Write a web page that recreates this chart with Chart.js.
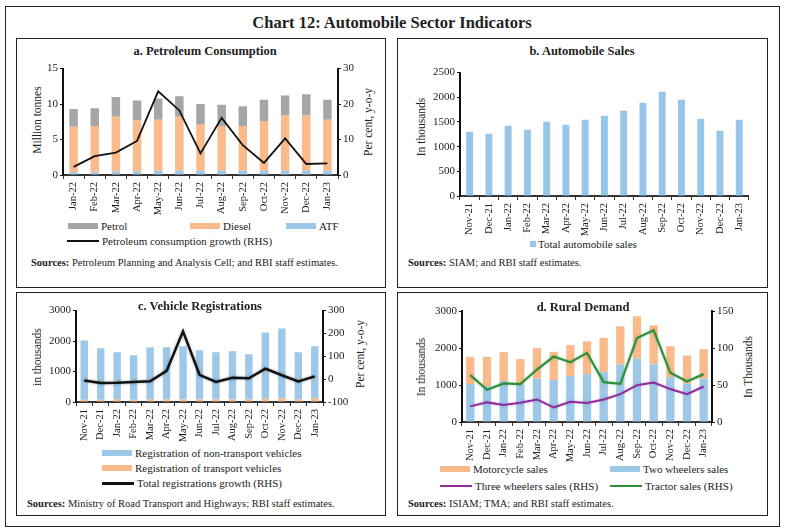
<!DOCTYPE html>
<html>
<head>
<meta charset="utf-8">
<script src="https://cdn.jsdelivr.net/npm/chart.js@4.4.1/dist/chart.umd.min.js"></script>
<style>
    body { margin: 0; width: 785px; height: 532px; position: relative; background: #fff; font-family: 'Liberation Serif', serif; color: #222; overflow: hidden; }
    .box { position: absolute; border: 1.5px solid #222; box-sizing: border-box; }
    .abs { position: absolute; white-space: nowrap; }
    .mid { transform: translate(-50%, -50%); }
    .vt { transform: translate(-50%, -50%) rotate(-90deg); font-size: 11.5px; }
    .ptitle { font-weight: bold; font-size: 12.5px; }
    .src { font-size: 10.5px; }
    .leg { font-size: 11px; display: flex; align-items: center; }
    .sw { display: inline-block; width: 30px; height: 6px; margin-right: 3px; }
    .ln { display: inline-block; width: 32px; height: 2px; margin-right: 3px; }
    .cw { position: absolute; }
</style>
</head>
<body>

<div class="box" style="left:5px; top:6px; width:775px; height:521px;"></div>
<div class="abs mid" style="left:392px; top:23px; font-size:16.5px; font-weight:bold;">Chart 12: Automobile Sector Indicators</div>

<!-- panel a -->
<div class="box" style="left:16px; top:38px; width:370px; height:250px;"></div>
<div class="abs mid ptitle" style="left:205px; top:51px;">a. Petroleum Consumption</div>
<div class="abs vt" style="left:37px; top:120px;">Million tonnes</div>
<div class="abs vt" style="left:368px; top:122px;">Per cent, y-o-y</div>
<div class="cw" style="left:20px; top:60px; width:345px; height:157px;"><canvas id="chartA"></canvas></div>
<div class="abs leg" style="left:68px; top:220px;"><span class="sw" style="background:#A6A6A6"></span>Petrol</div>
<div class="abs leg" style="left:190px; top:220px;"><span class="sw" style="background:#F9BA8C"></span>Diesel</div>
<div class="abs leg" style="left:286px; top:220px;"><span class="sw" style="background:#9DC8E8"></span>ATF</div>
<div class="abs leg" style="left:67px; top:235px;"><span class="ln" style="background:#111"></span>Petroleum consumption growth (RHS)</div>
<div class="abs src" style="left:31px; top:257px;"><b>Sources:</b> Petroleum Planning and Analysis Cell; and RBI staff estimates.</div>

<!-- panel b -->
<div class="box" style="left:397px; top:38px; width:371px; height:250px;"></div>
<div class="abs mid ptitle" style="left:582px; top:51px;">b. Automobile Sales</div>
<div class="abs vt" style="left:421px; top:127px;">In thousands</div>
<div class="cw" style="left:400px; top:64px; width:355px; height:172px;"><canvas id="chartB"></canvas></div>
<div class="abs leg" style="left:530px; top:238px;"><span class="sw" style="background:#97C6E8; width:6px; height:6px; margin-right:2px;"></span>Total automobile sales</div>
<div class="abs src" style="left:408px; top:257px;"><b>Sources:</b> SIAM; and RBI staff estimates.</div>

<!-- panel c -->
<div class="box" style="left:16px; top:292px; width:370px; height:224px;"></div>
<div class="cw" style="left:20px; top:302px; width:330px; height:140px;"><canvas id="chartC"></canvas></div>
<div class="abs mid ptitle" style="left:200px; top:306px;">c. Vehicle Registrations</div>
<div class="abs vt" style="left:37px; top:357px;">in thousands</div>
<div class="abs vt" style="left:360px; top:354px;">Per cent, y-o-y</div>
<div class="abs leg" style="left:102px; top:447px;"><span class="sw" style="background:#9DC8E8"></span>Registration of non-transport vehicles</div>
<div class="abs leg" style="left:102px; top:462px;"><span class="sw" style="background:#F9BA8C"></span>Registration of transport vehicles</div>
<div class="abs leg" style="left:102px; top:477px;"><span class="ln" style="background:#111; height:3px;"></span>Total registrations growth (RHS)</div>
<div class="abs src" style="left:27px; top:498px;"><b>Sources:</b> Ministry of Road Transport and Highways; RBI staff estimates.</div>

<!-- panel d -->
<div class="box" style="left:397px; top:292px; width:371px; height:224px;"></div>
<div class="cw" style="left:400px; top:302px; width:340px; height:160px;"><canvas id="chartD"></canvas></div>
<div class="abs mid ptitle" style="left:583px; top:307px;">d. Rural Demand</div>
<div class="abs vt" style="left:421px; top:367px;">In thousands</div>
<div class="abs vt" style="left:748px; top:367px;">In Thousands</div>
<div class="abs leg" style="left:440px; top:463px;"><span class="sw" style="background:#F9BA8C"></span>Motorcycle sales</div>
<div class="abs leg" style="left:610px; top:463px;"><span class="sw" style="background:#9DC8E8"></span>Two wheelers sales</div>
<div class="abs leg" style="left:440px; top:480px;"><span class="ln" style="background:#8E2C9A"></span>Three wheelers sales (RHS)</div>
<div class="abs leg" style="left:610px; top:480px;"><span class="ln" style="background:#2F8F3A"></span>Tractor sales (RHS)</div>
<div class="abs src" style="left:408px; top:498px;"><b>Sources:</b> ISIAM; TMA; and RBI staff estimates.</div>

<script>
// ---- data ----
const monthsA = ['Jan-22', 'Feb-22', 'Mar-22', 'Apr-22', 'May-22', 'Jun-22', 'Jul-22', 'Aug-22', 'Sep-22', 'Oct-22', 'Nov-22', 'Dec-22', 'Jan-23'];
const atf = [0.4, 0.4, 0.5, 0.5, 0.6, 0.6, 0.6, 0.6, 0.6, 0.6, 0.6, 0.6, 0.6];
const diesel = [6.4, 6.5, 7.7, 7.2, 7.2, 7.6, 6.5, 6.3, 6.3, 7.0, 7.8, 7.8, 7.2];
const petrol = [2.5, 2.5, 2.8, 2.8, 3.0, 2.9, 2.9, 3.0, 2.8, 3.0, 2.8, 3.0, 2.8];
const petroGrowth = [2.3, 5.3, 6.3, 9.6, 23.6, 18.2, 6.1, 16.1, 8.4, 3.4, 10.3, 3.1, 3.3];

const months = ['Nov-21', 'Dec-21', 'Jan-22', 'Feb-22', 'Mar-22', 'Apr-22', 'May-22', 'Jun-22', 'Jul-22', 'Aug-22', 'Sep-22', 'Oct-22', 'Nov-22', 'Dec-22', 'Jan-23'];
const autoSales = [1300, 1263, 1425, 1344, 1503, 1445, 1545, 1625, 1727, 1888, 2110, 1949, 1566, 1324, 1546];

const transportReg = [70, 70, 90, 75, 90, 85, 85, 85, 85, 85, 85, 110, 120, 90, 120];
const nonTransportReg = [1952, 1691, 1540, 1458, 1703, 1708, 1741, 1611, 1545, 1578, 1480, 2173, 2293, 1540, 1706];
const regGrowth = [-6, -17, -16, -13, -9, 36, 209, 19, -12, 6, 4, 46, 17, -10, 12];

const twoWheelers = [1024, 970, 1105, 1024, 1168, 1132, 1240, 1294, 1348, 1554, 1716, 1554, 1213, 1033, 1168];
const motorcycles = [737, 791, 782, 674, 836, 764, 835, 889, 925, 1034, 1141, 1061, 836, 764, 800];
const threeWheelers = [21.1, 26.5, 22.9, 26.0, 30.5, 19.8, 27.4, 25.6, 30.5, 37.7, 49.8, 53.4, 44.5, 37.7, 48.0];
const tractors = [63.3, 43.6, 52.1, 51.2, 70.9, 88.5, 80.8, 93.4, 53.9, 51.6, 113.6, 123.9, 66.5, 54.8, 64.7];

const FONT = "'Liberation Serif', serif";
const GREY = '#A6A6A6', ORANGE = '#F9BA8C', BLUE = '#9DC8E8';

// soft halo under some lines, like the reference
const glowPlugin = {
    id: 'glow',
    beforeDatasetDraw(chart, args) {
        const ds = chart.data.datasets[args.index];
        if (!ds.glow) return;
        chart.ctx.save();
        chart.ctx.shadowColor = ds.glow;
        chart.ctx.shadowBlur = 3;
    },
    afterDatasetDraw(chart, args) {
        if (chart.data.datasets[args.index].glow) chart.ctx.restore();
    }
};

function xAxis(height) {
    return {
        stacked: true,
        offset: true,
        grid: { display: true, drawOnChartArea: false, drawTicks: true, tickLength: 4, color: '#333', offset: true },
        border: { color: '#333', width: 2 },
        ticks: { color: '#222', font: { family: FONT, size: 10.5 }, minRotation: 90, maxRotation: 90, padding: 3, autoSkip: false },
        afterFit: s => { s.height = height; }
    };
}

function yAxis(pos, min, max, step, width, stacked) {
    return {
        position: pos,
        stacked: stacked,
        min: min,
        max: max,
        grid: { display: true, drawOnChartArea: false, drawTicks: true, tickLength: 3, color: '#111' },
        border: { color: '#111', width: 2 },
        ticks: { stepSize: step, color: '#222', font: { family: FONT, size: 11 }, padding: 2, format: { useGrouping: false } },
        afterFit: s => { s.width = width; }
    };
}

function bar(data, color, pct) {
    return { type: 'bar', data: data, backgroundColor: color, yAxisID: 'y', barPercentage: pct, categoryPercentage: 1, order: 1 };
}

function line(data, color, width, glow) {
    return { type: 'line', data: data, borderColor: color, borderWidth: width, pointRadius: 0, tension: 0, yAxisID: 'y1', order: 0, glow: glow };
}

function makeChart(id, labels, datasets, scales, padTop, padRight) {
    new Chart(document.getElementById(id), {
        data: { labels: labels, datasets: datasets },
        options: {
            responsive: true,
            maintainAspectRatio: false,
            animation: false,
            layout: { autoPadding: false, padding: { top: padTop, right: padRight, left: 0, bottom: 0 } },
            plugins: { legend: { display: false }, tooltip: { enabled: true } },
            scales: scales
        },
        plugins: [glowPlugin]
    });
}

// a. Petroleum consumption
makeChart('chartA', monthsA, [
    bar(atf, BLUE, 0.4),
    bar(diesel, ORANGE, 0.4),
    bar(petrol, GREY, 0.4),
    line(petroGrowth, '#111', 1.8)
], {
    x: xAxis(42),
    y: yAxis('left', 0, 15, 5, 43, true),
    y1: yAxis('right', 0, 30, 10, 27, false)
}, 8, 0);

// b. Automobile sales
makeChart('chartB', months, [
    bar(autoSales, '#97C6E8', 0.36)
], {
    x: xAxis(40),
    y: yAxis('left', 0, 2500, 500, 60, true)
}, 8, 5);

// c. Vehicle registrations
makeChart('chartC', months, [
    bar(transportReg, ORANGE, 0.45),
    bar(nonTransportReg, BLUE, 0.45),
    line(regGrowth, '#111', 2.5, 'rgba(0,0,0,0.35)')
], {
    x: xAxis(40),
    y: yAxis('left', 0, 3000, 1000, 56, true),
    y1: yAxis('right', -100, 300, 100, 27, false)
}, 8, 0);

// d. Rural demand
makeChart('chartD', months, [
    bar(twoWheelers, BLUE, 0.5),
    bar(motorcycles, ORANGE, 0.5),
    line(threeWheelers, '#8E2C9A', 2, 'rgba(142,44,154,0.35)'),
    line(tractors, '#2F8F3A', 2.2, 'rgba(47,143,58,0.35)')
], {
    x: xAxis(40),
    y: yAxis('left', 0, 3000, 1000, 62, true),
    y1: yAxis('right', 0, 150, 50, 28, false)
}, 9, 0);
</script>
</body>
</html>
